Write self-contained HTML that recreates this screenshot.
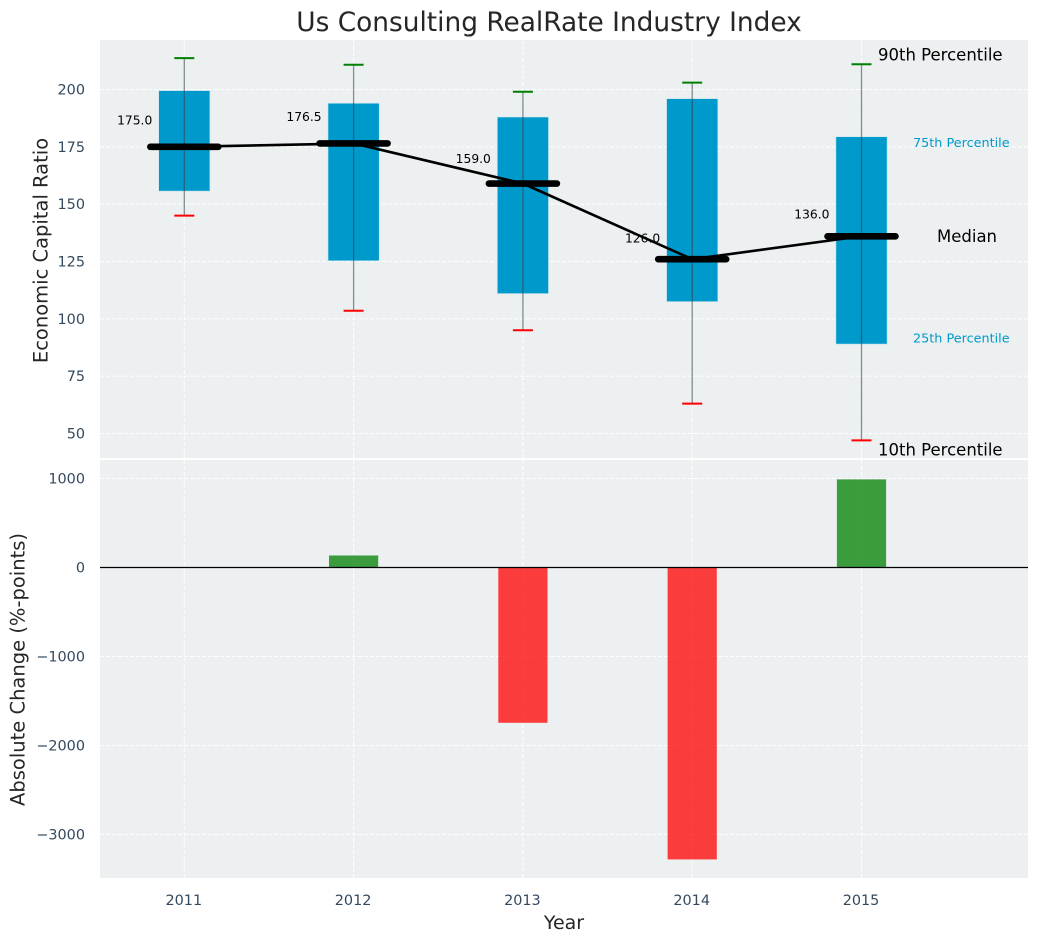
<!DOCTYPE html>
<html>
<head>
<meta charset="utf-8">
<title>Us Consulting RealRate Industry Index</title>
<style>
html,body{margin:0;padding:0;background:#fff;}
svg{display:block;font-family:"DejaVu Sans","Liberation Sans",sans-serif;}
</style>
</head>
<body>
<svg id="chart" xmlns="http://www.w3.org/2000/svg" width="1039" height="942" viewBox="0 0 1039 942"></svg>
<script>
var years = [2011, 2012, 2013, 2014, 2015];
var p90 = [213.7, 210.8, 199, 203, 211];
var p75 = [199.5, 194, 188, 196, 179.4];
var medians = [175.0, 176.5, 159.0, 126.0, 136.0];
var p25 = [155.7, 125.3, 111, 107.5, 89];
var p10 = [145, 103.5, 95, 63, 47];
var changes = [0, 135, -1745, -3280, 990];
var topTicks = [50, 75, 100, 125, 150, 175, 200];
var bottomTicks = [-3000, -2000, -1000, 0, 1000];

var svg = document.getElementById('chart');
var NS = 'http://www.w3.org/2000/svg';
function xScale(v){ return 184.3 + (v - 2011) * 169.3; }
function topY(v){ return 89.5 + (200 - v) * 2.2933; }
function botY(v){ return 567.5 - v * 0.0890; }
function make(tag, attrs, text){
  var el = document.createElementNS(NS, tag);
  for (var k in attrs) el.setAttribute(k, attrs[k]);
  if (text !== undefined) el.textContent = text;
  svg.appendChild(el);
  return el;
}
function fmt(v){ return v < 0 ? '\u2212' + Math.abs(v) : String(v); }
var el, i;

// panels
el = make('rect', {x:100, y:40, width:928, height:418, fill:'#ecf0f1'});


el = make('rect', {x:100, y:460, width:928, height:418, fill:'#ecf0f1'});



// gridlines
var gridStyle = {stroke:'#ffffff', 'stroke-width':1.1, 'stroke-dasharray':'4 2', 'stroke-opacity':0.9, fill:'none'};
function gridLine(x1, y1, x2, y2){
  var a = {x1:x1, y1:y1, x2:x2, y2:y2};
  for (var k in gridStyle) a[k] = gridStyle[k];
  return make('line', a);
}
topTicks.forEach(function(t){
  var g = gridLine(100, topY(t), 1028, topY(t));
  
  
  var label = make('text', {x:85, y:topY(t) + 5, 'text-anchor':'end', 'font-size':14.4, fill:'#34495e'}, fmt(t));
  
  
});
bottomTicks.forEach(function(t){
  var g = gridLine(100, botY(t), 1028, botY(t));
  
  
  var label = make('text', {x:85, y:botY(t) + 5, 'text-anchor':'end', 'font-size':14.4, fill:'#34495e'}, fmt(t));
  
  
});
years.forEach(function(y){
  var g1 = gridLine(xScale(y), 40, xScale(y), 458);
  
  
  var g2 = gridLine(xScale(y), 460, xScale(y), 878);
  
  
  var label = make('text', {x:xScale(y) - 0.5, y:905, 'text-anchor':'middle', 'font-size':14.4, fill:'#34495e'}, String(y));
  
  
});

// boxes
var boxHalf = 25.6;
for (i = 0; i < years.length; i++) {
  el = make('rect', {x:xScale(years[i]) - boxHalf, y:topY(p75[i]), width:boxHalf * 2, height:topY(p25[i]) - topY(p75[i]), fill:'#0099cc', stroke:'#c8e4ee', 'stroke-width':0.6});
  
  
}

// whiskers
for (i = 0; i < years.length; i++) {
  var wx = xScale(years[i]);
  el = make('line', {x1:wx, y1:topY(p90[i]), x2:wx, y2:topY(p10[i]), stroke:'#34434f', 'stroke-width':1.3, 'stroke-opacity':0.6});
  
  
  el = make('line', {x1:wx - 10, y1:topY(p90[i]), x2:wx + 10, y2:topY(p90[i]), stroke:'#008000', 'stroke-width':2});
  
  
  el = make('line', {x1:wx - 10, y1:topY(p10[i]), x2:wx + 10, y2:topY(p10[i]), stroke:'#ff0000', 'stroke-width':2});
  
  
}

// median trend line
var pts = years.map(function(y, n){ return xScale(y) + ',' + topY(medians[n]); }).join(' ');
el = make('polyline', {points:pts, fill:'none', stroke:'#000000', 'stroke-width':2.6});



// median bars and value labels
for (i = 0; i < years.length; i++) {
  var mx = xScale(years[i]);
  el = make('line', {x1:mx - 34, y1:topY(medians[i]), x2:mx + 34, y2:topY(medians[i]), stroke:'#000000', 'stroke-width':6.6, 'stroke-linecap':'round'});
  
  
  el = make('text', {x:mx - 32, y:topY(medians[i] * 1.05) - 2.3, 'text-anchor':'end', 'font-size':12.3, fill:'#000000'}, medians[i].toFixed(1));
  
  
}

// annotations anchored to the last year
var last = years.length - 1;
el = make('text', {x:878, y:topY(p90[last]) - 4, 'font-size':16.5, fill:'#000000'}, '90th Percentile');


el = make('text', {x:913, y:topY(p75[last]) + 10.5, 'font-size':12.8, fill:'#0099cc'}, '75th Percentile');


el = make('text', {x:937, y:topY(medians[last]) + 5.5, 'font-size':16.5, fill:'#000000'}, 'Median');


el = make('text', {x:913, y:topY(p25[last]) - 1.5, 'font-size':12.8, fill:'#0099cc'}, '25th Percentile');


el = make('text', {x:878, y:topY(p10[last]) + 15, 'font-size':16.5, fill:'#000000'}, '10th Percentile');



// change bars
var barHalf = 24.6;
for (i = 0; i < years.length; i++) {
  if (changes[i] === 0) continue;
  var barTop = Math.min(botY(changes[i]), botY(0));
  var barHeight = Math.abs(botY(changes[i]) - botY(0));
  el = make('rect', {x:xScale(years[i]) - barHalf, y:barTop, width:barHalf * 2, height:barHeight, fill:changes[i] > 0 ? '#008000' : '#ff0000', 'fill-opacity':0.75});
  
  
}
el = make('line', {x1:100, y1:botY(0), x2:1028, y2:botY(0), stroke:'#000000', 'stroke-width':1.2});



// titles
el = make('text', {x:549, y:31, 'text-anchor':'middle', 'font-size':26.4, fill:'#262626'}, 'Us Consulting RealRate Industry Index');


el = make('text', {x:564, y:929, 'text-anchor':'middle', 'font-size':19, fill:'#262626'}, 'Year');


el = make('text', {transform:'translate(47.5,250.5) rotate(-90)', 'text-anchor':'middle', 'font-size':19.5, fill:'#262626'}, 'Economic Capital Ratio');


el = make('text', {transform:'translate(24.5,669.5) rotate(-90)', 'text-anchor':'middle', 'font-size':19.5, fill:'#262626'}, 'Absolute Change (%-points)');


</script>
</body>
</html>
